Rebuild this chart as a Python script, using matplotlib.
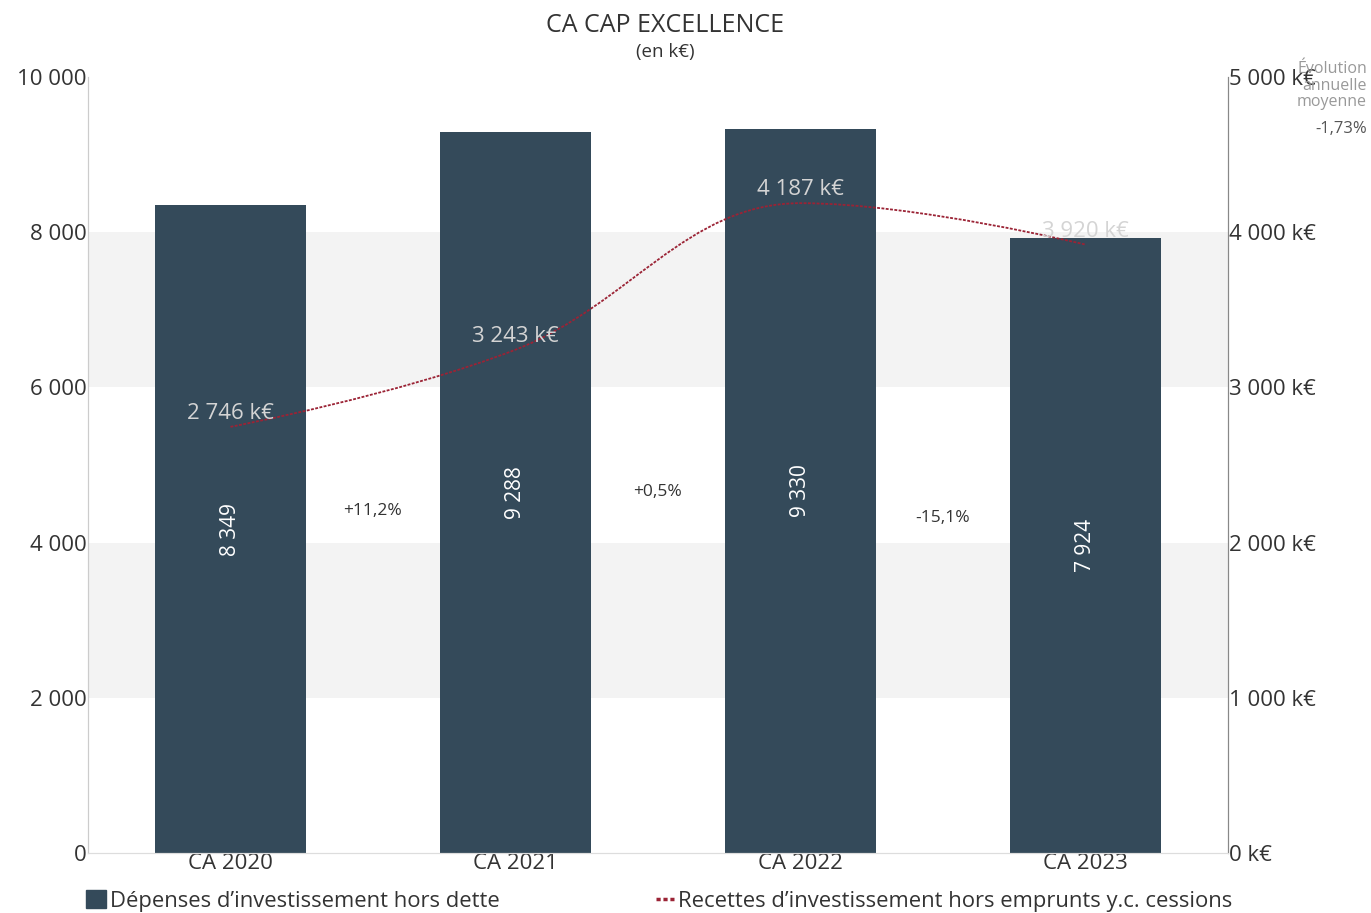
import matplotlib
matplotlib.use("Agg")
import matplotlib.pyplot as plt
from matplotlib.lines import Line2D
from matplotlib.patches import Patch, PathPatch
from matplotlib.path import Path
from matplotlib.ticker import FuncFormatter, MultipleLocator

plt.rcParams["font.family"] = ["Open Sans", "DejaVu Sans"]

# data
categories = ["CA 2020", "CA 2021", "CA 2022", "CA 2023"]
depenses = [8349, 9288, 9330, 7924]
recettes = [2746, 3243, 4187, 3920]
evolutions = ["+11,2%", "+0,5%", "-15,1%"]
evolution_moyenne = "-1,73%"

BAR_COLOR = "#344a5a"
LINE_COLOR = "#9b2335"
TEXT_COLOR = "#333333"
BAND_COLOR = "#f3f3f3"


def fmt_thousands(v):
    return f"{int(round(v)):,}".replace(",", " ")


def spline_path(xs, ys, smoothing=1.5):
    """Smooth bezier path through the points (same idea as a chart spline)."""
    denom = smoothing + 1
    n = len(xs)
    left = [None] * n
    right = [None] * n
    for i in range(1, n - 1):
        lx = (smoothing * xs[i] + xs[i - 1]) / denom
        ly = (smoothing * ys[i] + ys[i - 1]) / denom
        rx = (smoothing * xs[i] + xs[i + 1]) / denom
        ry = (smoothing * ys[i] + ys[i + 1]) / denom
        corr = (ry - ly) * (rx - xs[i]) / (rx - lx) + ys[i] - ry
        ly += corr
        ry += corr
        if ly > ys[i - 1] and ly > ys[i]:
            ly = max(ys[i - 1], ys[i])
            ry = 2 * ys[i] - ly
        elif ly < ys[i - 1] and ly < ys[i]:
            ly = min(ys[i - 1], ys[i])
            ry = 2 * ys[i] - ly
        if ry > ys[i + 1] and ry > ys[i]:
            ry = max(ys[i + 1], ys[i])
            ly = 2 * ys[i] - ry
        elif ry < ys[i + 1] and ry < ys[i]:
            ry = min(ys[i + 1], ys[i])
            ly = 2 * ys[i] - ry
        left[i] = (lx, ly)
        right[i] = (rx, ry)
    verts = [(xs[0], ys[0])]
    codes = [Path.MOVETO]
    for i in range(1, n):
        c1 = right[i - 1] or (xs[i - 1], ys[i - 1])
        c2 = left[i] or (xs[i], ys[i])
        verts += [c1, c2, (xs[i], ys[i])]
        codes += [Path.CURVE4] * 3
    return Path(verts, codes)


fig = plt.figure(figsize=(13.71, 9.13), dpi=100)
ax = fig.add_axes([88 / 1371, 1 - 853 / 913, (1228 - 88) / 1371, (853 - 77) / 913])
ax2 = ax.twinx()

x = list(range(len(categories)))

# background bands
for lo, hi in [(2000, 4000), (6000, 8000)]:
    ax.axhspan(lo, hi, color=BAND_COLOR, zorder=0, lw=0)

ax.bar(x, depenses, width=0.53, color=BAR_COLOR, zorder=2)
for xi, v in zip(x, depenses):
    ax.text(xi, v / 2, fmt_thousands(v), rotation=90, ha="center", va="center",
            color="white", fontsize=15, zorder=3)

for i, label in enumerate(evolutions):
    ypos = (depenses[i] + depenses[i + 1]) / 4
    ax.text(i + 0.5, ypos, label, ha="center", va="center", color=TEXT_COLOR,
            fontsize=12.5, zorder=3)

ax.set_xlim(-0.5, len(categories) - 0.5)
ax.set_ylim(0, 10000)
ax.yaxis.set_major_locator(MultipleLocator(2000))
ax.yaxis.set_major_formatter(FuncFormatter(lambda v, p: fmt_thousands(v)))
ax.set_xticks(x)
ax.set_xticklabels(categories)
ax.tick_params(axis="both", length=0, labelsize=16, colors=TEXT_COLOR, pad=1)
ax.tick_params(axis="x", pad=0)

# line on secondary axis
ax2.set_ylim(0, 5000)
ax2.yaxis.set_major_locator(MultipleLocator(1000))
ax2.yaxis.set_major_formatter(FuncFormatter(lambda v, p: fmt_thousands(v) + " k€"))
ax2.tick_params(axis="y", length=0, labelsize=16, colors=TEXT_COLOR, pad=1)
path = spline_path(x, recettes)
ax2.add_patch(PathPatch(path, fill=False, edgecolor=LINE_COLOR, lw=1.3,
                        linestyle=(0, (1.6, 0.8)), zorder=4))
for xi, v in zip(x, recettes):
    ax2.annotate(f"{fmt_thousands(v)} k€", (xi, v), xytext=(0, 2),
                 textcoords="offset points", ha="center", va="bottom",
                 color="#d4d4d4", fontsize=16, zorder=5)

for a in (ax, ax2):
    a.spines["top"].set_visible(False)
    a.spines["left"].set_color("#cccccc")
    a.spines["right"].set_color("#888888")
    a.spines["bottom"].set_color("#dddddd")

fig.text(0.485, 1 - 26 / 913, "CA CAP EXCELLENCE", ha="center", va="center",
         fontsize=18, color=TEXT_COLOR)
fig.text(0.485, 1 - 52 / 913, "(en k€)", ha="center", va="center",
         fontsize=13.5, color=TEXT_COLOR)

fig.text(1367 / 1371, 1 - 61 / 913, "Évolution\nannuelle\nmoyenne", ha="right",
         va="top", fontsize=11.5, color="#999999", linespacing=1.05)
fig.text(1367 / 1371, 1 - 129 / 913, evolution_moyenne, ha="right", va="center",
         fontsize=12, color="#555555")

leg_kw = dict(frameon=False, fontsize=15.8, labelcolor=TEXT_COLOR,
              handletextpad=0.2, borderaxespad=0, borderpad=0)
fig.legend(handles=[Patch(color=BAR_COLOR, label="Dépenses d’investissement hors dette")],
           loc="center left", bbox_to_anchor=(86 / 1371, 1 - 901 / 913),
           handlelength=0.9, handleheight=0.9, **leg_kw)
fig.legend(handles=[Line2D([], [], color=LINE_COLOR, lw=2.5, linestyle=(0, (1.2, 0.8)),
                           label="Recettes d’investissement hors emprunts y.c. cessions")],
           loc="center left", bbox_to_anchor=(656 / 1371, 1 - 901 / 913),
           handlelength=0.8, **leg_kw)

fig.savefig("out.png", dpi=100)
